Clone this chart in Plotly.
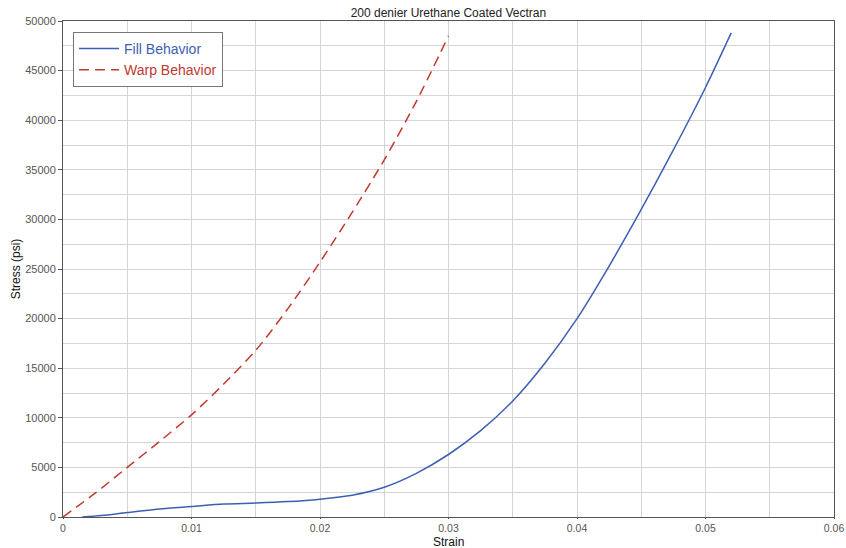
import plotly.graph_objects as go

fill_strain = [0.0015, 0.003, 0.005, 0.0075, 0.01, 0.0125, 0.015, 0.0175, 0.02, 0.0225, 0.025, 0.0275, 0.03, 0.0325, 0.035, 0.0375, 0.04, 0.0425, 0.045, 0.0475, 0.05, 0.052]
fill_stress = [0, 150, 450, 800, 1050, 1300, 1400, 1550, 1800, 2200, 3000, 4400, 6300, 8700, 11700, 15500, 20000, 25300, 31000, 37000, 43300, 48800]

warp_strain = [0.0, 0.0025, 0.005, 0.0075, 0.01, 0.0125, 0.015, 0.0175, 0.02, 0.0225, 0.025, 0.0275, 0.03]
warp_stress = [0, 2400, 5000, 7600, 10300, 13400, 16800, 21000, 25700, 30700, 36000, 41900, 48500]

BLUE = "#3d5fb3"
RED = "#c0392f"
FONT = "Liberation Sans, Arial"

fig = go.Figure()
fig.add_trace(go.Scatter(x=fill_strain, y=fill_stress, mode="lines",
                         line=dict(color=BLUE, width=1.5, shape="spline", smoothing=0.8),
                         name=f"<span style='color:{BLUE}'>Fill Behavior</span>"))
fig.add_trace(go.Scatter(x=warp_strain, y=warp_stress, mode="lines",
                         line=dict(color=RED, width=1.5, dash="10px,6px", shape="spline", smoothing=0.8),
                         name=f"<span style='color:{RED}'>Warp Behavior</span>"))

axis_common = dict(showline=True, linecolor="#555555", linewidth=1, mirror=True,
                   gridcolor="#d4d4d4", gridwidth=1, ticks="outside",
                   tickcolor="#555555", zeroline=False, automargin=False)

fig.update_layout(
    width=846, height=548,
    margin=dict(l=63, r=12, t=21, b=31),
    paper_bgcolor="white", plot_bgcolor="white",
    title=dict(text="200 denier Urethane Coated Vectran", x=0.53, xanchor="center",
               y=0.985, yanchor="top",
               font=dict(family=FONT, size=12, color="#222222")),
    font=dict(family=FONT),
    xaxis=dict(range=[0, 0.06], dtick=0.01, tick0=0, ticklen=1,
               tickfont=dict(family=FONT, size=10.5, color="#555555"),
               minor=dict(dtick=0.005, showgrid=True, gridcolor="#d4d4d4"),
               **axis_common),
    yaxis=dict(range=[0, 50000], dtick=5000, tick0=0, tickformat="d", ticklen=4,
               tickfont=dict(family=FONT, size=11, color="#555555"),
               minor=dict(dtick=2500, showgrid=True, gridcolor="#d4d4d4"),
               title=dict(text="Stress (psi)", standoff=2,
                          font=dict(family=FONT, size=12, color="#111111")),
               **axis_common),
    legend=dict(x=0.013, y=0.978, xanchor="left", yanchor="top",
                bgcolor="white", bordercolor="#777777", borderwidth=1,
                font=dict(family=FONT, size=14),
                tracegroupgap=0, itemwidth=40),
    showlegend=True,
    annotations=[dict(text="Strain", xref="paper", yref="paper", x=0.5, y=-0.05,
                      xanchor="center", yanchor="middle", showarrow=False,
                      font=dict(family=FONT, size=12, color="#111111"))],
)

fig.write_html("out.html")
